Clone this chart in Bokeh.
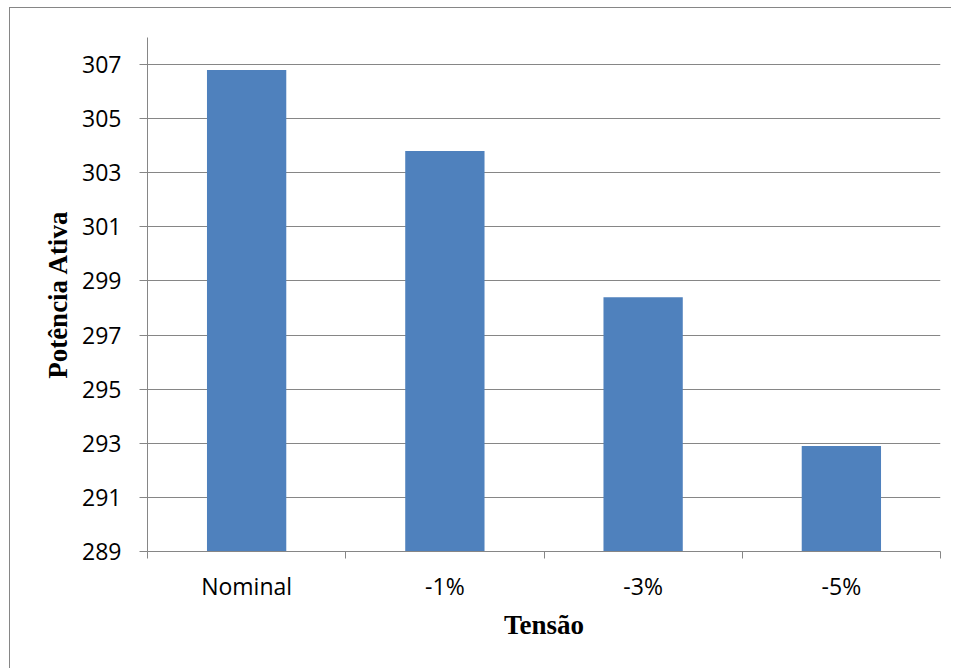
from bokeh.plotting import figure
from bokeh.models import FixedTicker, Range1d, ColumnDataSource
from bokeh.embed import file_html
from bokeh.resources import INLINE

categories = ["Nominal", "-1%", "-3%", "-5%"]
values = [306.8, 303.8, 298.4, 292.9]
y_ticks = [289, 291, 293, 295, 297, 299, 301, 303, 305, 307]
y_min, y_max = 289, 308

x_centers = [i + 0.5 for i in range(len(categories))]
x_bounds = list(range(len(categories) + 1))
src = ColumnDataSource(dict(x=x_centers, top=values, cat=categories))

GRAY = "#868686"
TICK_FONT = "Open Sans"
TITLE_FONT = "Liberation Serif"

p = figure(width=942, height=661, output_backend="svg", toolbar_location=None,
           x_range=Range1d(0, len(categories)), y_range=Range1d(y_min, y_max),
           min_border_left=137, min_border_right=12, min_border_top=29,
           min_border_bottom=118)
p.styles = {"border-left": "1px solid #868686", "border-top": "1px solid #868686",
            "margin-left": "9px", "margin-top": "7px"}
p.outline_line_color = None
p.background_fill_color = "white"
p.border_fill_color = "white"

p.vbar(x="x", top="top", bottom=y_min, width=0.4, source=src,
       fill_color="#4F81BD", line_color=None)

# y axis
p.yaxis.ticker = FixedTicker(ticks=y_ticks)
p.yaxis.axis_line_color = GRAY
p.yaxis.major_tick_line_color = GRAY
p.yaxis.major_tick_out = 8
p.yaxis.major_tick_in = 0
p.yaxis.minor_tick_line_color = None
p.yaxis.major_label_text_font = TICK_FONT
p.yaxis.major_label_text_font_size = "23px"
p.yaxis.major_label_text_color = "black"
p.yaxis.major_label_standoff = 18
p.yaxis.axis_label = "Potência Ativa"
p.yaxis.axis_label_text_font = TITLE_FONT
p.yaxis.axis_label_text_font_style = "bold"
p.yaxis.axis_label_text_font_size = "27px"
p.yaxis.axis_label_text_color = "black"
p.yaxis.axis_label_standoff = 6

# x axis
p.xaxis.ticker = FixedTicker(ticks=x_centers, minor_ticks=x_bounds)
p.xaxis.major_label_overrides = {xc: c for xc, c in zip(x_centers, categories)}
p.xaxis.axis_line_color = GRAY
p.xaxis.major_tick_line_color = None
p.xaxis.major_tick_out = 0
p.xaxis.major_tick_in = 0
p.xaxis.minor_tick_line_color = GRAY
p.xaxis.minor_tick_out = 7
p.xaxis.minor_tick_in = 0
p.xaxis.major_label_text_font = TICK_FONT
p.xaxis.major_label_text_font_size = "23px"
p.xaxis.major_label_text_color = "black"
p.xaxis.major_label_standoff = 11
p.xaxis.axis_label = "Tensão"
p.xaxis.axis_label_text_font = TITLE_FONT
p.xaxis.axis_label_text_font_style = "bold"
p.xaxis.axis_label_text_font_size = "27px"
p.xaxis.axis_label_text_color = "black"
p.xaxis.axis_label_standoff = 5

p.xgrid.visible = False
p.ygrid.grid_line_color = GRAY
p.ygrid.grid_line_width = 1

open("out.html", "w").write(file_html(p, INLINE))
